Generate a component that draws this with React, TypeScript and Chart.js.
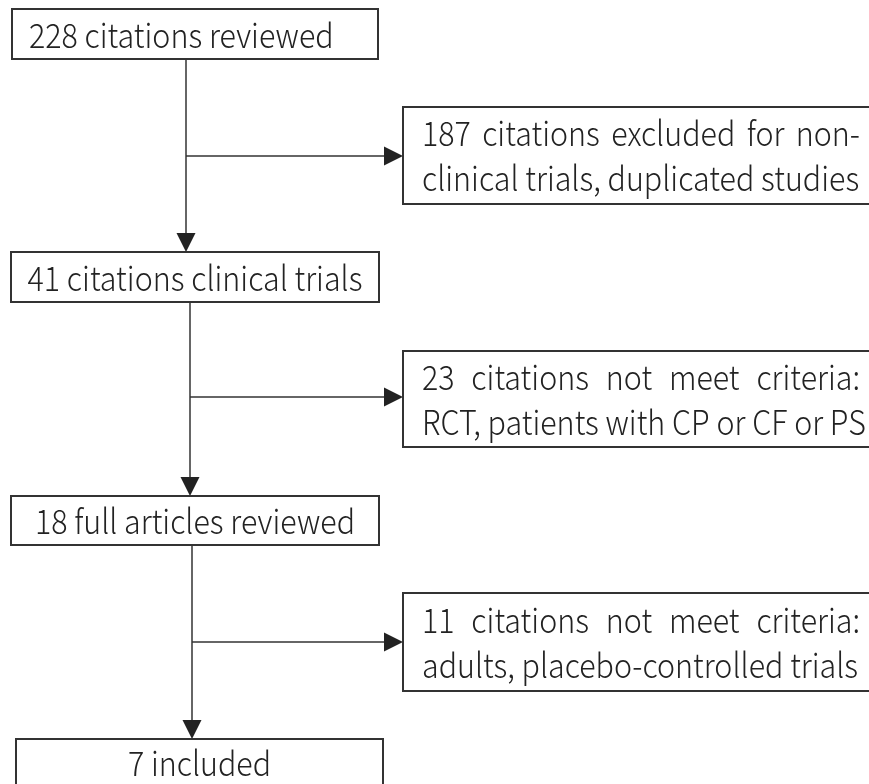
import React, { useEffect, useRef } from "react";
import { Chart, registerables } from "chart.js";

Chart.register(...registerables);

// ---- data ----
const mainCounts = [228, 41, 18, 7];
const mainLabels = ["citations reviewed", "citations clinical trials", "full articles reviewed", "included"];
const excludedCounts = [187, 23, 11];
const excludedLine1 = ["citations excluded for non-", "citations not meet criteria:", "citations not meet criteria:"];
const excludedLine2 = [
  "clinical trials, duplicated studies",
  "RCT, patients with CP or CF or PS",
  "adults, placebo-controlled trials",
];

// ---- layout (diagram units = pixels of an 869x784 page) ----
const W = 869;
const H = 784;
const mainBoxes = [
  { x0: 12, x1: 378, y0: 9, y1: 59, align: "left" },
  { x0: 11, x1: 379, y0: 252, y1: 302, align: "center" },
  { x0: 11, x1: 379, y0: 496, y1: 545, align: "center" },
  { x0: 16, x1: 383, y0: 739, y1: 800, align: "center" },
];
const sideBoxes = [
  { x0: 403, x1: 880, y0: 107, y1: 204 },
  { x0: 403, x1: 880, y0: 351, y1: 447 },
  { x0: 403, x1: 880, y0: 593, y1: 691 },
];
const trunkX = [186, 190, 192];
const branchY = [156, 397, 642];

const FONT = '"Noto Sans CJK SC", "Noto Sans", sans-serif';
const FONT_SIZE = 34;
const SX = 0.895;

const flowPlugin = {
  id: "flow",
  afterDraw(chart: any) {
    const ctx: CanvasRenderingContext2D = chart.ctx;
    const xs = chart.scales.x;
    const ys = chart.scales.y;
    const px = (v: number) => xs.getPixelForValue(v);
    const py = (v: number) => ys.getPixelForValue(v);
    ctx.save();
    ctx.fillStyle = "#ffffff";
    ctx.fillRect(0, 0, chart.width, chart.height);

    const ink = "#222";
    const arrowHead = (tx: number, ty: number, dir: "down" | "right") => {
      ctx.beginPath();
      if (dir === "down") {
        ctx.moveTo(tx, ty);
        ctx.lineTo(tx - 9.5, ty - 19);
        ctx.lineTo(tx + 9.5, ty - 19);
      } else {
        ctx.moveTo(tx, ty);
        ctx.lineTo(tx - 19, ty - 9.5);
        ctx.lineTo(tx - 19, ty + 9.5);
      }
      ctx.closePath();
      ctx.fillStyle = ink;
      ctx.fill();
    };

    // connectors
    ctx.strokeStyle = "#333";
    ctx.lineWidth = 1.5;
    for (let i = 0; i < trunkX.length; i++) {
      const from = mainBoxes[i];
      const to = mainBoxes[i + 1];
      const x = px(trunkX[i]);
      ctx.beginPath();
      ctx.moveTo(x, py(from.y1));
      ctx.lineTo(x, py(to.y0) - 17);
      ctx.stroke();
      arrowHead(x, py(to.y0), "down");
      const side = sideBoxes[i];
      const y = py(branchY[i]);
      ctx.beginPath();
      ctx.moveTo(x, y);
      ctx.lineTo(px(side.x0) - 17, y);
      ctx.stroke();
      arrowHead(px(side.x0), y, "right");
    }

    // boxes
    ctx.strokeStyle = "#333";
    ctx.lineWidth = 2;
    const strokeBox = (b: any) => {
      ctx.strokeRect(px(b.x0), py(b.y0), px(b.x1) - px(b.x0), py(b.y1) - py(b.y0));
    };
    mainBoxes.forEach(strokeBox);
    sideBoxes.forEach(strokeBox);

    const drawText = (text: string, x: number, y: number, align: CanvasTextAlign) => {
      ctx.save();
      ctx.translate(x, y);
      ctx.scale(SX, 1);
      ctx.textAlign = align;
      ctx.fillText(text, 0, 0);
      ctx.restore();
    };

    // main texts
    ctx.fillStyle = "#222";
    ctx.font = `300 ${FONT_SIZE}px ${FONT}`;
    ctx.textBaseline = "middle";
    mainBoxes.forEach((b, i) => {
      const text = `${mainCounts[i]} ${mainLabels[i]}`;
      const yMid = i === 3 ? py(b.y0) + 24 : (py(b.y0) + py(b.y1)) / 2 + 1;
      if (b.align === "left") {
        drawText(text, px(b.x0) + 17, yMid, "left");
      } else {
        drawText(text, (px(b.x0) + px(b.x1)) / 2, yMid, "center");
      }
    });

    // side texts
    const tx0 = 422;
    const tx1 = 860;
    const justify = (line: string, y: number) => {
      const words = line.split(" ");
      const widths = words.map((w) => ctx.measureText(w).width * SX);
      const total = widths.reduce((a, b) => a + b, 0);
      const gap = (px(tx1) - px(tx0) - total) / (words.length - 1);
      let x = px(tx0);
      words.forEach((w, k) => {
        drawText(w, x, y, "left");
        x += widths[k] + gap;
      });
    };
    sideBoxes.forEach((b, i) => {
      const mid = (py(b.y0) + py(b.y1)) / 2;
      justify(`${excludedCounts[i]} ${excludedLine1[i]}`, mid - 22);
      drawText(excludedLine2[i], px(tx0), mid + 23, "left");
    });
    ctx.restore();
  },
};

export default function App() {
  const ref = useRef<HTMLCanvasElement | null>(null);
  useEffect(() => {
    document.body.style.margin = "0";
    const chart = new Chart(ref.current as HTMLCanvasElement, {
      type: "scatter",
      data: { datasets: [{ data: [], pointRadius: 0 }] },
      options: {
        animation: false,
        responsive: false,
        devicePixelRatio: 1,
        layout: { padding: 0 },
        plugins: { legend: { display: false }, tooltip: { enabled: false } },
        scales: {
          x: { type: "linear", min: 0, max: W, display: false },
          y: { type: "linear", min: 0, max: H, reverse: true, display: false },
        },
      },
      plugins: [flowPlugin],
    });
    return () => chart.destroy();
  }, []);
  return (
    <div style={{ position: "absolute", left: 0, top: 0, width: W, height: H }}>
      <canvas ref={ref} width={W} height={H} />
    </div>
  );
}
